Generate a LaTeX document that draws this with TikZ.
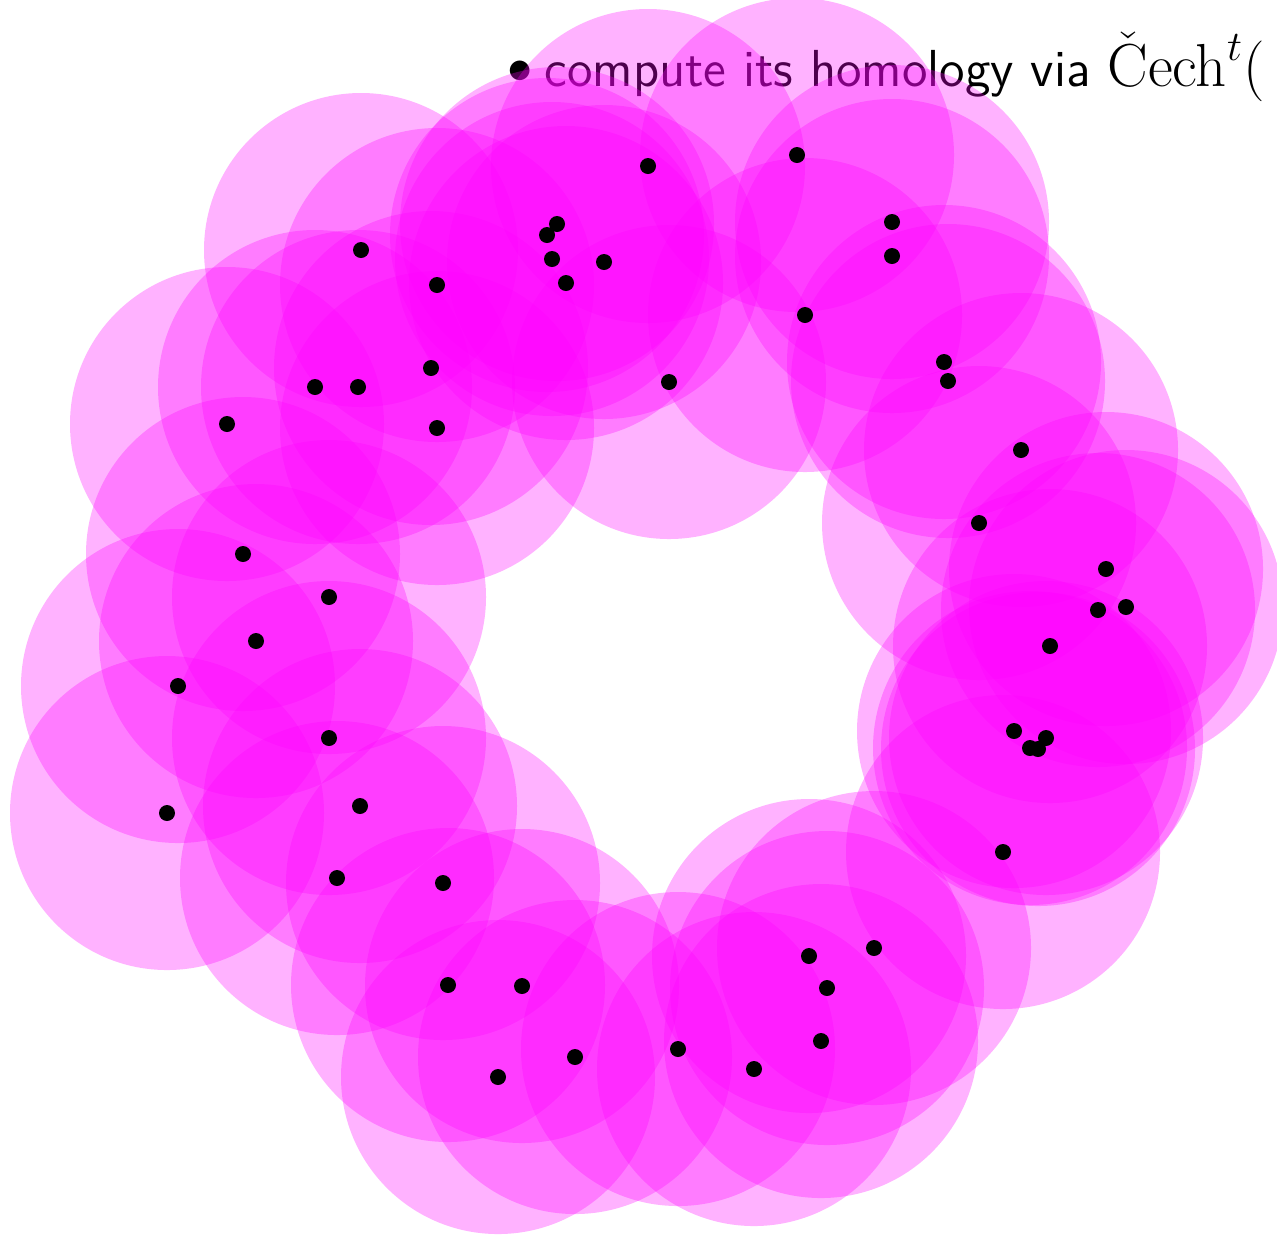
\documentclass[tikz,border=0pt]{standalone}
\usepackage{amsmath,amssymb}
\usepackage{tikz}
\usepackage{xcolor}

\definecolor{ballmag}{RGB}{255,0,255}

\begin{document}
\begin{tikzpicture}[x=0.01cm,y=-0.01cm]
    \useasboundingbox (0,0) rectangle (1277,1235);
    \clip (0,0) rectangle (1277,1235);

    % Item text (behind the balls)
    \node[inner sep=0pt] (bul) at (520,72) {\fontsize{14.8}{17}\selectfont $\bullet$};
    \node[anchor=base west, inner sep=0pt, font=\fontsize{14.8}{17}\selectfont\sffamily] (item) at (544,86)
        {compute its homology via {\fontsize{18.6}{22}\selectfont$\check{\mathrm{C}}\mathrm{ech}^{t}($}};

    % Sample points on the annulus
    \foreach \x/\y [count=\i] in {648/166, 797/155, 557/224, 547/235, 552/259, 604/262,
        566/283, 361/250, 437/285, 892/222, 892/256, 805/315, 944/362, 948/381,
        669/382, 315/387, 358/387, 431/368, 437/428, 227/424, 1021/450, 979/523,
        1106/569, 1098/610, 1126/607, 1050/646, 243/554, 329/597, 256/641, 178/686,
        329/738, 1014/731, 1030/748, 1038/749, 1046/738, 360/806, 167/813, 1003/852,
        337/878, 443/883, 874/948, 809/956, 827/988, 448/985, 522/986, 821/1041,
        678/1049, 575/1057, 754/1069, 498/1077} {
        \coordinate (p\i) at (\x,\y);
    }

    % Balls of radius t
    \foreach \i in {1,...,50} {
        \fill[ballmag, opacity=0.3] (p\i) circle (157);
    }

    % Points
    \foreach \i in {1,...,50} {
        \fill[black] (p\i) circle (8);
    }
\end{tikzpicture}
\end{document}
